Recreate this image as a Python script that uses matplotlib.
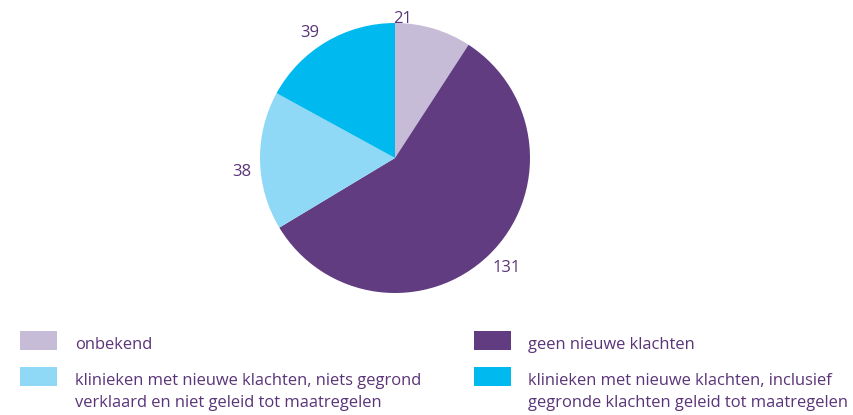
import matplotlib.pyplot as plt
from matplotlib.patches import Rectangle
import numpy as np

# data
categories = ['onbekend', 'geen nieuwe klachten',
              'klinieken met nieuwe klachten, niets gegrond\nverklaard en niet geleid tot maatregelen',
              'klinieken met nieuwe klachten, inclusief\ngegronde klachten geleid tot maatregelen']
values = [21, 131, 38, 39]
colors = ['#c6bcd8', '#613c80', '#8fd8f6', '#00b9ef']
text_color = '#5a3478'

plt.rcParams['font.family'] = ['Open Sans', 'DejaVu Sans']

W, H = 854, 415
fig = plt.figure(figsize=(W / 100, H / 100), dpi=100)

# pie centre (px) and radius (px)
cx, cy, r = 395, 158, 135
half = 1.25 * r
ax = fig.add_axes([(cx - half) / W, (H - cy - half) / H, 2 * half / W, 2 * half / H])
wedges, _ = ax.pie(values, colors=colors, startangle=90, counterclock=False,
                   wedgeprops=dict(linewidth=0))
ax.set_xlim(-1.25, 1.25)
ax.set_ylim(-1.25, 1.25)
ax.set_aspect('equal')
ax.axis('off')

# value labels, placed around the pie
label_dist = [1.03, 1.16, 1.14, 1.12]
label_ang_shift = [0, 1.3, 4, 3.8]
for w, v, d, s in zip(wedges, values, label_dist, label_ang_shift):
    ang = np.deg2rad((w.theta1 + w.theta2) / 2 + s)
    if v == 21:
        ang = np.deg2rad(max(w.theta1, w.theta2) - 3)
    ax.text(d * np.cos(ang), d * np.sin(ang), str(v), ha='center', va='center',
            fontsize=12, color=text_color)

# legend
sq_w, sq_h = 37, 19
rows = [(331, 0), (331, 1), (367, 2), (367, 3)]
cols_x = [20, 474]
text_x = [75, 528]
for top, i in rows:
    col = i % 2
    fig.patches.append(Rectangle((cols_x[col] / W, (H - top - sq_h) / H), sq_w / W, sq_h / H,
                                 transform=fig.transFigure, facecolor=colors[i], edgecolor='none'))
    fig.text(text_x[col] / W, (H - top - 6) / H, categories[i], ha='left', va='top',
             fontsize=11.9, color=text_color, linespacing=1.52)

fig.savefig('out.png', dpi=100, facecolor='white')
